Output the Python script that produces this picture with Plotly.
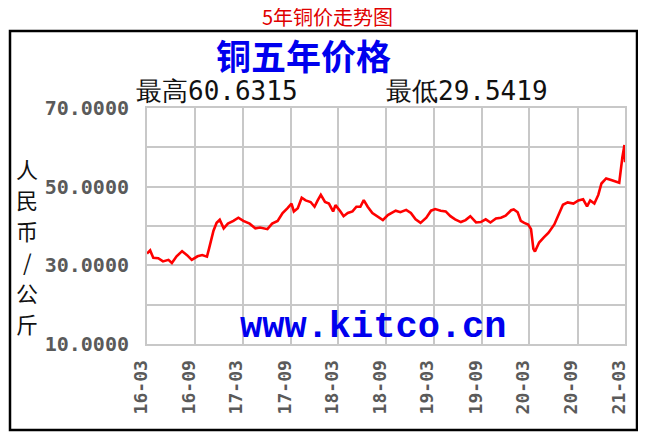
import plotly.graph_objects as go

# The page body has an 8px default margin, so figure coords = screen coords - 8
OFF = 8
W, H = 646 - OFF, 434 - OFF

# ---- data ----
dates = [
    "2016-03-01", "2016-03-13", "2016-03-25", "2016-04-13", "2016-05-01", "2016-05-22",
    "2016-06-04", "2016-06-22", "2016-07-13", "2016-08-01", "2016-08-19", "2016-09-10",
    "2016-09-28", "2016-10-16", "2016-10-25", "2016-11-10", "2016-11-22", "2016-12-04",
    "2016-12-19", "2017-01-04", "2017-01-25", "2017-02-13", "2017-03-04", "2017-03-28",
    "2017-04-19", "2017-05-07", "2017-06-04", "2017-06-22", "2017-07-13", "2017-08-01",
    "2017-08-19", "2017-09-04", "2017-09-13", "2017-09-28", "2017-10-13", "2017-10-28",
    "2017-11-16", "2017-12-01", "2017-12-13", "2017-12-25", "2018-01-10", "2018-01-25",
    "2018-02-10", "2018-02-19", "2018-03-10", "2018-03-22", "2018-04-07", "2018-04-25",
    "2018-05-10", "2018-05-25", "2018-06-07", "2018-06-22", "2018-07-10", "2018-07-28",
    "2018-08-19", "2018-09-07", "2018-09-19", "2018-10-07", "2018-10-25", "2018-11-16",
    "2018-12-04", "2018-12-22", "2019-01-10", "2019-02-01", "2019-02-19", "2019-03-07",
    "2019-03-28", "2019-04-16", "2019-05-04", "2019-05-22", "2019-06-13", "2019-07-01",
    "2019-07-19", "2019-08-10", "2019-08-28", "2019-09-16", "2019-10-04", "2019-10-25",
    "2019-11-13", "2019-12-01", "2019-12-22", "2020-01-01", "2020-01-16", "2020-01-28",
    "2020-02-10", "2020-02-25", "2020-03-07", "2020-03-16", "2020-03-22", "2020-04-07",
    "2020-04-25", "2020-05-13", "2020-06-04", "2020-06-19", "2020-07-07", "2020-07-25",
    "2020-08-16", "2020-09-04", "2020-09-22", "2020-10-07", "2020-10-19", "2020-11-04",
    "2020-11-19", "2020-12-01", "2020-12-19", "2021-01-07", "2021-01-28", "2021-02-07",
    "2021-02-19", "2021-02-27", "2021-03-01",
]
prices = [
    33.0, 33.8, 31.9, 31.8, 31.0, 31.4,
    30.6, 32.3, 33.6, 32.6, 31.4, 32.3,
    32.6, 32.2, 34.5, 38.8, 40.8, 41.6,
    39.4, 40.6, 41.3, 42.1, 41.3, 40.6,
    39.4, 39.6, 39.2, 40.6, 41.3, 43.3,
    44.5, 45.7, 43.7, 44.5, 47.2, 46.5,
    46.1, 44.9, 46.5, 47.9, 46.1, 45.7,
    43.7, 45.3, 43.7, 42.5, 43.3, 43.7,
    44.9, 44.9, 46.6, 44.9, 43.3, 42.5,
    41.5, 42.8, 43.3, 43.9, 43.5, 44.1,
    43.3, 41.7, 40.8, 42.1, 43.9, 44.3,
    43.9, 43.7, 42.5, 41.7, 41.0, 41.5,
    42.5, 40.9, 41.0, 41.7, 40.9, 41.9,
    42.1, 42.6, 44.0, 44.2, 43.5, 41.3,
    40.8, 40.4, 39.2, 34.2, 33.5, 35.8,
    37.1, 38.3, 40.4, 42.5, 45.4, 46.0,
    45.7, 46.5, 46.8, 45.0, 46.5, 45.7,
    47.9, 50.8, 52.1, 51.7, 51.3, 51.0,
    57.5, 60.6, 56.2,
]

x_tick_vals = ["2016-03-01", "2016-09-01", "2017-03-01", "2017-09-01", "2018-03-01",
               "2018-09-01", "2019-03-01", "2019-09-01", "2020-03-01", "2020-09-01",
               "2021-03-01"]
x_tick_text = ["16-03", "16-09", "17-03", "17-09", "18-03", "18-09",
               "19-03", "19-09", "20-03", "20-09", "21-03"]
y_tick_vals = [10, 30, 50, 70]
y_tick_text = ["10.0000", "30.0000", "50.0000", "70.0000"]

page_title = "5年铜价走势图"
chart_title = "铜五年价格"
high_text = "最高60.6315"
low_text = "最低29.5419"
y_label_chars = ["人", "民", "币", "/", "公", "斤"]
watermark = "www.kitco.cn"
bottom_caption = "铜价走势图表"

CJK = "Noto Sans CJK SC"
MONO = "DejaVu Sans Mono"


def px(x):
    return (x - OFF) / W


def py(y):
    return 1 - (y - OFF) / H


fig = go.Figure()
fig.add_trace(go.Scatter(
    x=dates, y=prices, mode="lines",
    line=dict(color="#ff0000", width=2.6),
    hoverinfo="skip", showlegend=False,
))

grid = "#c8c8c8"
fig.update_layout(
    width=W, height=H,
    margin=dict(l=0, r=0, t=0, b=0, autoexpand=False),
    paper_bgcolor="white", plot_bgcolor="white",
    showlegend=False,
    xaxis=dict(
        domain=[px(147), px(625)],
        type="date", automargin=False,
        range=["2016-03-01", "2021-03-01"],
        tickmode="array", tickvals=x_tick_vals, ticktext=x_tick_text,
        tickangle=-90, ticklabelshift=-6, ticklabelstandoff=7,
        tickfont=dict(family=MONO, size=18, color="#5a5a5a", weight="bold"),
        showgrid=True, gridcolor=grid, gridwidth=2,
        showline=True, linecolor=grid, linewidth=2, mirror=True,
        zeroline=False, ticks="",
    ),
    yaxis=dict(
        domain=[py(344), py(108)],
        automargin=False,
        range=[10, 70],
        tickmode="array", tickvals=y_tick_vals, ticktext=y_tick_text,
        tickfont=dict(family=MONO, size=20, color="#5a5a5a", weight="bold"),
        ticklabelstandoff=12,
        showgrid=True, gridcolor=grid, gridwidth=2,
        minor=dict(tickvals=[20, 40, 60], showgrid=True, gridcolor=grid, gridwidth=2, ticks=""),
        showline=True, linecolor=grid, linewidth=2, mirror=True,
        zeroline=False, ticks="",
    ),
)

# outer framed box
fig.add_shape(type="rect", xref="paper", yref="paper",
              x0=px(10), x1=px(637), y0=py(430), y1=py(31),
              line=dict(color="black", width=2.5), layer="below")

ann = []
ann.append(dict(text=page_title, x=px(327), y=py(17), xanchor="center", yanchor="middle",
                borderpad=0, font=dict(family=CJK, size=20, color="#e00000")))
ann.append(dict(text=chart_title, x=px(303), y=py(54), xanchor="center", yanchor="middle",
                borderpad=0, font=dict(family=CJK, size=35, color="#0000ee", weight="bold")))
ann.append(dict(text=high_text, x=px(134), y=py(91), xanchor="left", yanchor="middle",
                font=dict(family=MONO, size=26, color="#111111")))
ann.append(dict(text=low_text, x=px(384), y=py(91), xanchor="left", yanchor="middle",
                font=dict(family=MONO, size=26, color="#111111")))
ann.append(dict(text=watermark, x=px(373), y=py(327), xanchor="center", yanchor="middle",
                font=dict(family="Liberation Mono", size=37, color="#0000ee", weight="bold")))
for i, ch in enumerate(y_label_chars):
    ann.append(dict(text=ch, x=px(27), y=py(168 + i * 31), xanchor="center", yanchor="middle",
                    font=dict(family=CJK, size=22, color="#111111")))
ann.append(dict(text=bottom_caption, x=px(265), y=py(428), xanchor="center", yanchor="top",
                font=dict(family=CJK, size=18, color="#e00000")))
for a in ann:
    a.update(xref="paper", yref="paper", showarrow=False)
fig.update_layout(annotations=ann)

fig.write_html("out.html")
